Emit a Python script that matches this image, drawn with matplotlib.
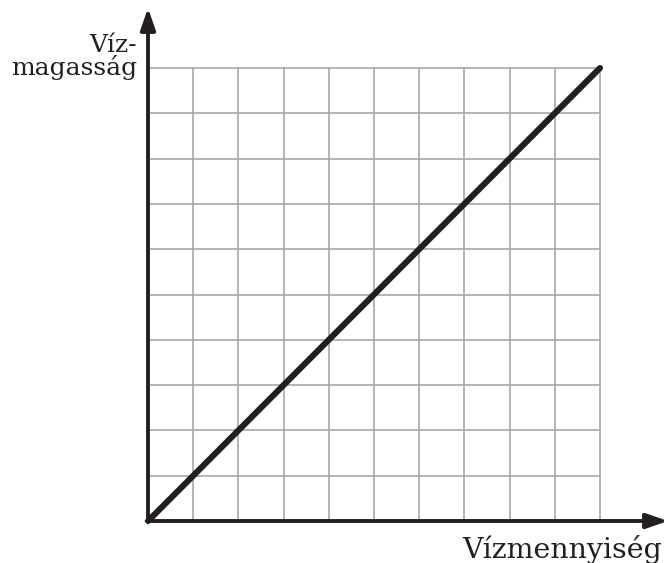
import matplotlib.pyplot as plt

# grid and line data (units of grid cells)
n_cols = 10
n_rows = 10
line_x = [0, 10]
line_y = [0, 10]
x_label = "Vízmennyiség"
y_label = "Víz-\nmagasság"

W, H = 670, 563
fig = plt.figure(figsize=(W / 100, H / 100), dpi=100)

ox, oy = 148, 521          # origin in pixels (from top-left)
ux = (600 - ox) / n_cols   # pixels per cell
uy = (oy - 68) / n_rows

ax = fig.add_axes([ox / W, (H - oy) / H, (W - ox) / W, oy / H])
ax.set_xlim(0, (W - ox) / ux)
ax.set_ylim(0, oy / uy)
ax.axis('off')

grid_col = '#a7a7a7'
for i in range(1, n_cols + 1):
    ax.plot([i, i], [0, n_rows], color=grid_col, lw=1.2, zorder=1)
for j in range(1, n_rows + 1):
    ax.plot([0, n_cols], [j, j], color=grid_col, lw=1.2, zorder=1)

dark = '#231f20'
ax.plot(line_x, line_y, color=dark, lw=4.4, solid_capstyle='round', zorder=3)

# axes with arrows
tip_x = (668 - ox) / ux
tip_y = (oy - 8) / uy
ax.annotate('', xy=(tip_x, 0), xytext=(-0.03, 0),
            arrowprops=dict(arrowstyle='-|>,head_length=1.3,head_width=0.45',
                            color=dark, lw=2.8, shrinkA=0, shrinkB=0), zorder=4)
ax.annotate('', xy=(0, tip_y), xytext=(0, -0.03),
            arrowprops=dict(arrowstyle='-|>,head_length=1.3,head_width=0.45',
                            color=dark, lw=2.8, shrinkA=0, shrinkB=0), zorder=4)

fig.text(137 / W, 1 - 57 / H, y_label, ha='right', va='center', fontsize=18,
         family='DejaVu Serif', color=dark, linespacing=0.95, multialignment='right')
fig.text(662 / W, 1 - 549 / H, x_label, ha='right', va='center', fontsize=20.5,
         family='DejaVu Serif', color=dark)

fig.savefig('out.png', dpi=100)
